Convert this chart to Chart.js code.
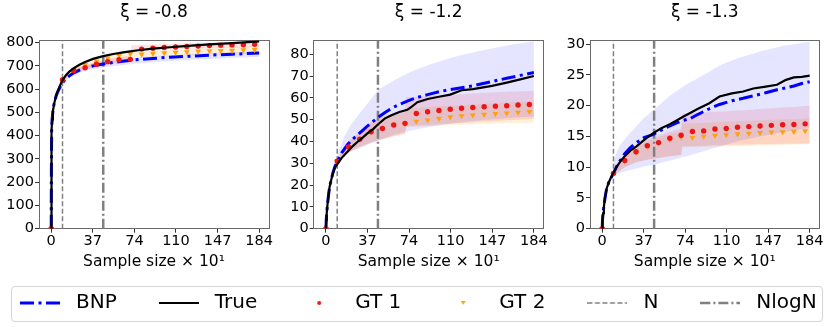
<!DOCTYPE html>
<html><head><meta charset="utf-8">
<script src="https://cdn.jsdelivr.net/npm/chart.js@4/dist/chart.umd.min.js"></script>
<style>
html,body{margin:0;padding:0;background:#fff;width:830px;height:327px;overflow:hidden;position:relative;}
canvas{position:absolute;}
#frame{position:absolute;left:11px;top:286px;width:812px;height:36px;border:1px solid #d4d4d4;border-radius:4px;box-sizing:border-box;}
</style></head><body>
<div id="frame"></div>
<canvas id="p1" width="830" height="280" style="left:0;top:0"></canvas>
<canvas id="p2" width="830" height="280" style="left:0;top:0"></canvas>
<canvas id="p3" width="830" height="280" style="left:0;top:0"></canvas>
<canvas id="lg" width="900" height="90" style="left:-22px;top:257px"></canvas>
<script>
// ---------- data ----------
const panelTitles = ['ξ = -0.8', 'ξ = -1.2', 'ξ = -1.3'];
const xAxisTitle = 'Sample size × 10¹';
const xTickValues = [0, 36.8, 73.6, 110.4, 147.2, 184];
const xTickLabels = ['0', '37', '74', '110', '147', '184'];
const nLine = 10;
const nLogNLine = 46.05;
const legendLabels = ['BNP', 'True', 'GT 1', 'GT 2', 'N', 'NlogN'];

const yTicks1 = [0, 100, 200, 300, 400, 500, 600, 700, 800];
const yTicks2 = [0, 10, 20, 30, 40, 50, 60, 70, 80];
const yTicks3 = [0, 5, 10, 15, 20, 25, 30];
const yMaxes = [809, 86.3, 30.6];

const gtX = [0, 10, 20, 30, 40, 50, 60, 70, 80, 90, 100, 110, 120, 130, 140, 150, 160, 170, 180];
const gtBandX = [10, 20, 30, 40, 50, 60, 70, 71, 80, 90, 100, 110, 120, 130, 140, 150, 160, 170, 180, 184];
const bnpBandX = [10, 13, 16, 22, 30, 37, 46, 60, 75, 90, 105, 120, 140, 160, 184];

// panel 1 (xi = -0.8)
const p1X = [0, 0.15, 0.4, 0.8, 1.5, 2.5, 3.5, 4.5, 6, 8, 10, 13, 16, 20, 25, 30, 37, 46, 55, 65, 77, 90, 105, 121, 140, 160, 184];
const p1True = [0, 250, 420, 470, 505, 535, 555, 575, 595, 618, 638, 660, 675, 690, 705, 717, 730, 742, 751, 759, 767, 774, 780, 786, 792, 798, 805];
const p1Bnp = [0, 250, 420, 470, 505, 535, 555, 573, 590, 610, 627, 645, 657, 670, 682, 692, 700, 708, 715, 721, 727, 732, 737, 741, 746, 750, 755];
const p1BnpLo = [622, 637, 647, 664, 679, 686, 693, 702, 710, 716, 721, 725, 730, 734, 739];
const p1BnpHi = [632, 653, 666, 685, 701, 709, 717, 727, 735, 741, 746, 750, 755, 759, 764];
const p1Gt1 = [0, 640, 680, 692, 707, 718, 726, 728, 772, 776, 779, 781, 783, 785, 787, 789, 790, 791, 793];
const p1Gt2 = [0, 640, 685, 705, 720, 733, 745, 752, 750, 753, 756, 758, 760, 762, 764, 765, 766, 768, 769];
const p1Gt1Lo = [635, 672, 682, 695, 705, 712, 715, 765, 766, 768, 770, 771, 773, 774, 776, 777, 778, 779, 780, 781];
const p1Gt1Hi = [645, 690, 703, 718, 730, 738, 742, 789, 790, 792, 794, 796, 797, 799, 800, 801, 802, 803, 804, 805];
const p1Gt2Lo = [635, 672, 686, 700, 712, 722, 730, 735, 736, 738, 740, 742, 744, 745, 746, 747, 748, 749, 750, 750];
const p1Gt2Hi = [645, 695, 712, 728, 742, 752, 760, 762, 764, 766, 768, 770, 772, 774, 776, 778, 780, 782, 784, 785];

// panel 2 (xi = -1.2)
const p2X = [0, 0.3, 0.7, 1.2, 2, 3.2, 4.5, 6.2, 8, 10.6, 14, 19.5, 24, 28.3, 33, 37, 42, 46, 52, 58, 65, 72, 76, 81, 90, 100, 110, 120, 130, 147, 160, 172, 184];
const p2True = [0, 4, 7, 10, 14, 19, 22, 25.4, 28, 30, 32.5, 35.5, 38, 40, 42, 43.8, 45.8, 47.8, 50.5, 52, 53.5, 54.5, 56, 58, 59.5, 60.5, 61.5, 63.5, 64, 65.5, 67, 68.5, 70];
const p2Bnp = [0, 4, 7, 10, 14, 19, 22, 25.6, 28.6, 31.3, 34.8, 38.8, 41.2, 43.2, 45.3, 47.2, 49.3, 51, 53.2, 55.2, 57, 58.5, 59.3, 60.2, 61.5, 62.8, 63.8, 64.6, 65.5, 67.5, 69, 70.3, 71.6];
const p2BnpLo = [30.5, 32.5, 33.8, 35.5, 37, 38.5, 40.5, 43, 45, 46.5, 47.8, 48.8, 49.8, 50.6, 51.5];
const p2BnpHi = [33.5, 38, 42, 47.6, 53, 57.5, 63.6, 68, 72, 75, 77.5, 79.7, 82, 84, 86];
const p2Gt1 = [0, 31, 37.5, 41, 44.5, 46, 47.6, 48.3, 52.8, 53.6, 54.2, 54.8, 55.2, 55.6, 55.9, 56.2, 56.4, 56.7, 57];
const p2Gt2 = [0, 31, 37.5, 41, 44.3, 45.8, 47.3, 48, 49.2, 49.8, 50.5, 51.2, 51.7, 52.1, 52.4, 52.7, 53, 53.3, 53.7];
const p2Gt1Lo = [30, 35, 37.5, 39.5, 41, 42.5, 43.7, 47, 47.3, 47.6, 47.9, 48.2, 48.5, 48.8, 49.1, 49.4, 49.7, 50, 50.3, 50.4];
const p2Gt1Hi = [32, 40, 44.5, 49, 51.5, 53, 54.4, 60.3, 60.5, 60.8, 61.1, 61.4, 61.7, 62, 62.3, 62.6, 62.8, 63, 63.2, 63.3];
const p2Gt2Lo = [30, 35, 37.5, 39.5, 41, 42.3, 43.3, 46.5, 46.7, 47, 47.3, 47.5, 47.7, 47.9, 48.1, 48.3, 48.4, 48.5, 48.6, 48.6];
const p2Gt2Hi = [32, 40, 44.5, 48.5, 50.5, 52, 53, 55.3, 55.5, 55.8, 56.1, 56.4, 56.7, 57, 57.3, 57.6, 57.9, 58.1, 58.4, 58.5];

// panel 3 (xi = -1.3)
const p3X = [0, 0.3, 0.8, 1.5, 2.5, 3.9, 6, 8, 10, 12.7, 16, 20, 25, 30.4, 37, 45, 52, 60, 66, 71.7, 78, 85, 95, 104, 115, 125, 134, 145, 155, 163, 170, 177, 184];
const p3True = [0, 1.5, 2.5, 3.6, 5, 6.5, 7.6, 8.4, 9.1, 10, 10.9, 11.8, 12.7, 13.4, 14.4, 15.5, 16.3, 17, 17.6, 18.2, 18.8, 19.5, 20.4, 21.5, 22, 22.3, 22.8, 23.1, 23.4, 24.2, 24.6, 24.7, 24.9];
const p3Bnp = [0, 1.5, 2.5, 3.6, 5, 6.5, 7.6, 8.3, 9, 10.1, 11.1, 12.2, 13.2, 14, 14.8, 15.3, 16, 16.7, 17.2, 17.6, 17.9, 18.6, 19.5, 20.2, 20.8, 21.2, 21.6, 22.1, 22.6, 22.9, 23.2, 23.6, 23.9];
const p3BnpLo = [8.7, 8.9, 9.1, 9.4, 9.8, 10.1, 10.4, 11.1, 11.8, 12.6, 13.4, 14.2, 15, 15.7, 16.4];
const p3BnpHi = [11, 12.5, 13.6, 15, 16.6, 18, 19.4, 21.6, 23.5, 25, 26.6, 27.7, 28.8, 29.7, 30.4];
const p3Gt1 = [0, 9, 11.1, 12.5, 13.5, 14, 14.7, 15.2, 15.8, 15.9, 16.2, 16.3, 16.5, 16.6, 16.7, 16.8, 16.9, 16.95, 17.05];
const p3Gt2 = [0, 9, 11, 12.4, 13.4, 13.9, 14.5, 14.9, 14.8, 15, 15.15, 15.3, 15.4, 15.5, 15.6, 15.7, 15.75, 15.8, 15.9];
const p3Gt1Lo = [8.7, 10, 10.8, 11.2, 11.5, 11.8, 12, 13.4, 13.45, 13.5, 13.55, 13.6, 13.65, 13.7, 13.72, 13.75, 13.8, 13.82, 13.85, 13.9];
const p3Gt1Hi = [9.3, 12, 13.5, 14.5, 15.2, 15.8, 16.3, 18.7, 18.8, 18.9, 19, 19.1, 19.2, 19.3, 19.45, 19.6, 19.7, 19.8, 19.95, 20];
const p3Gt2Lo = [8.7, 10, 10.8, 11.2, 11.5, 11.8, 12, 13.2, 13.25, 13.3, 13.35, 13.4, 13.45, 13.5, 13.55, 13.6, 13.65, 13.7, 13.75, 13.8];
const p3Gt2Hi = [9.3, 12, 13.3, 14.2, 14.9, 15.4, 15.8, 17.1, 17.15, 17.2, 17.3, 17.4, 17.5, 17.55, 17.6, 17.7, 17.75, 17.8, 17.9, 18];

// ---------- drawing ----------
const FONT = 'DejaVu Sans';
Chart.defaults.font.family = FONT;
Chart.defaults.color = '#000';

const xy = (xs, ys) => xs.map((x, i) => ({x: x, y: ys[i]}));

const panels = [
  {id: 'p1', left: 39, right: 269, yTicks: yTicks1, X: p1X, T: p1True, B: p1Bnp, BL: p1BnpLo, BH: p1BnpHi, G1: p1Gt1, G2: p1Gt2, G1L: p1Gt1Lo, G1H: p1Gt1Hi, G2L: p1Gt2Lo, G2H: p1Gt2Hi},
  {id: 'p2', left: 313.7, right: 543.7, yTicks: yTicks2, X: p2X, T: p2True, B: p2Bnp, BL: p2BnpLo, BH: p2BnpHi, G1: p2Gt1, G2: p2Gt2, G1L: p2Gt1Lo, G1H: p2Gt1Hi, G2L: p2Gt2Lo, G2H: p2Gt2Hi},
  {id: 'p3', left: 590, right: 819.5, yTicks: yTicks3, X: p3X, T: p3True, B: p3Bnp, BL: p3BnpLo, BH: p3BnpHi, G1: p3Gt1, G2: p3Gt2, G1L: p3Gt1Lo, G1H: p3Gt1Hi, G2L: p3Gt2Lo, G2H: p3Gt2Hi}
];

const X_MIN = -10.8, X_MAX = 192.7;
const AXIS_COLOR = '#6a6a6a';

panels.forEach((p, i) => {
  const yMax = yMaxes[i];
  const band = (xs, ys, fill, color, order) => ({
    data: xy(xs, ys), borderWidth: 0, pointRadius: 0, pointHoverRadius: 0,
    fill: fill, backgroundColor: color, borderColor: 'rgba(0,0,0,0)', order: order
  });
  new Chart(document.getElementById(p.id), {
    type: 'line',
    data: {
      datasets: [
        {label: 'True', data: xy(p.X, p.T), borderColor: '#000', borderWidth: 2.2, pointRadius: 0, order: 0},
        {label: 'GT 1', data: xy(gtX, p.G1), showLine: false, pointStyle: 'circle', pointRadius: 2.7, backgroundColor: '#ee1515', borderWidth: 0, order: 1},
        {label: 'GT 2', data: xy(gtX, p.G2), showLine: false, pointStyle: 'triangle', rotation: 180, pointRadius: 3.4, backgroundColor: '#ffa010', borderWidth: 0, order: 2},
        {label: 'BNP', data: xy(p.X, p.B), borderColor: '#0000ff', borderWidth: 3, borderDash: [14, 4.5, 3, 4.5], pointRadius: 0, order: 3},
        {label: 'N', data: xy([nLine, nLine], [0, yMax]), borderColor: '#808080', borderWidth: 1.5, borderDash: [5, 2.5], pointRadius: 0, order: 4},
        {label: 'NlogN', data: xy([nLogNLine, nLogNLine], [0, yMax]), borderColor: '#808080', borderWidth: 2.5, borderDash: [10, 3, 2, 3], pointRadius: 0, order: 4},
        band(bnpBandX, p.BL, false, 'rgba(0,0,0,0)', 5),
        band(bnpBandX, p.BH, '-1', 'rgba(40,40,255,0.12)', 5),
        band(gtBandX, p.G1L, false, 'rgba(0,0,0,0)', 6),
        band(gtBandX, p.G1H, '-1', 'rgba(255,30,30,0.13)', 6),
        band(gtBandX, p.G2L, false, 'rgba(0,0,0,0)', 7),
        band(gtBandX, p.G2H, '-1', 'rgba(255,160,20,0.16)', 7)
      ]
    },
    options: {
      responsive: false, animation: false, devicePixelRatio: 1,
      layout: {padding: {left: p.left - 36, right: 830 - p.right, top: 0, bottom: 0}},
      plugins: {legend: {display: false}, tooltip: {enabled: false}, title: {display: false}},
      elements: {line: {tension: 0, borderCapStyle: 'butt'}},
      scales: {
        x: {
          type: 'linear', position: 'bottom', min: X_MIN, max: X_MAX,
          afterBuildTicks: s => { s.ticks = xTickValues.map(v => ({value: v})); },
          afterFit: s => { s.height = 51.3; },
          ticks: {callback: (v, idx) => xTickLabels[idx], font: {family: FONT, size: 14.5, lineHeight: 1}, color: '#000', padding: 1, maxRotation: 0, autoSkip: false},
          grid: {display: true, drawOnChartArea: false, drawTicks: true, tickLength: 4, tickColor: '#333'},
          border: {display: true, color: AXIS_COLOR, width: 1},
          title: {display: true, text: xAxisTitle, font: {family: FONT, size: 15.5}, color: '#000', padding: {top: 0, bottom: 9}}
        },
        xTop: {
          type: 'linear', position: 'top', min: X_MIN, max: X_MAX, display: true,
          afterFit: s => { s.height = 40.5; },
          ticks: {display: false},
          grid: {display: false, drawTicks: false},
          border: {display: true, color: AXIS_COLOR, width: 1},
          title: {display: true, text: panelTitles[i], font: {family: FONT, size: 17}, color: '#000', padding: {top: 2.5, bottom: 0}}
        },
        y: {
          type: 'linear', position: 'left', min: 0, max: yMax,
          afterBuildTicks: s => { s.ticks = p.yTicks.map(v => ({value: v})); },
          afterFit: s => { s.width = 36; },
          ticks: {font: {family: FONT, size: 14.5, lineHeight: 1}, color: '#000', padding: 1},
          grid: {display: true, drawOnChartArea: false, drawTicks: true, tickLength: 4, tickColor: '#333'},
          border: {display: true, color: AXIS_COLOR, width: 1}
        },
        yR: {
          type: 'linear', position: 'right', min: 0, max: yMax, display: true,
          afterFit: s => { s.width = 0; },
          ticks: {display: false},
          grid: {display: false, drawTicks: false},
          border: {display: true, color: AXIS_COLOR, width: 1}
        }
      }
    }
  });
});

// ---------- legend ----------
function sym(draw) {
  const c = document.createElement('canvas');
  c.width = 40; c.height = 14;
  const g = c.getContext('2d');
  draw(g);
  return c;
}
function lineSym(color, width, dash) {
  return sym(g => { g.strokeStyle = color; g.lineWidth = width; g.setLineDash(dash); g.beginPath(); g.moveTo(0, 7); g.lineTo(40, 7); g.stroke(); });
}
const legendSymbols = [
  lineSym('#0000ff', 3, [14, 4.5, 3, 4.5]),
  lineSym('#000', 2, []),
  sym(g => { g.fillStyle = '#ee1515'; g.beginPath(); g.arc(20, 7, 2, 0, Math.PI * 2); g.fill(); }),
  sym(g => { g.fillStyle = '#ffa010'; g.beginPath(); g.moveTo(17.5, 5); g.lineTo(22.5, 5); g.lineTo(20, 9); g.closePath(); g.fill(); }),
  lineSym('#808080', 1.5, [5, 2.5]),
  lineSym('#808080', 2.5, [10, 3, 2, 3])
];

new Chart(document.getElementById('lg'), {
  type: 'line',
  data: {datasets: legendLabels.map(l => ({label: l, data: []}))},
  options: {
    responsive: false, animation: false, devicePixelRatio: 1,
    layout: {padding: 0},
    scales: {x: {display: false}, y: {display: false}},
    plugins: {
      tooltip: {enabled: false},
      legend: {
        display: true, position: 'top', align: 'start', maxHeight: 80,
        labels: {
          usePointStyle: true, pointStyleWidth: 52, padding: 36,
          font: {family: FONT, size: 20}, color: '#000',
          generateLabels: () => legendLabels.map((t, i) => ({
            text: t, pointStyle: legendSymbols[i], fillStyle: 'rgba(0,0,0,0)',
            strokeStyle: 'rgba(0,0,0,0)', lineWidth: 0, hidden: false, datasetIndex: i
          }))
        }
      }
    }
  }
});
</script>
</body></html>
